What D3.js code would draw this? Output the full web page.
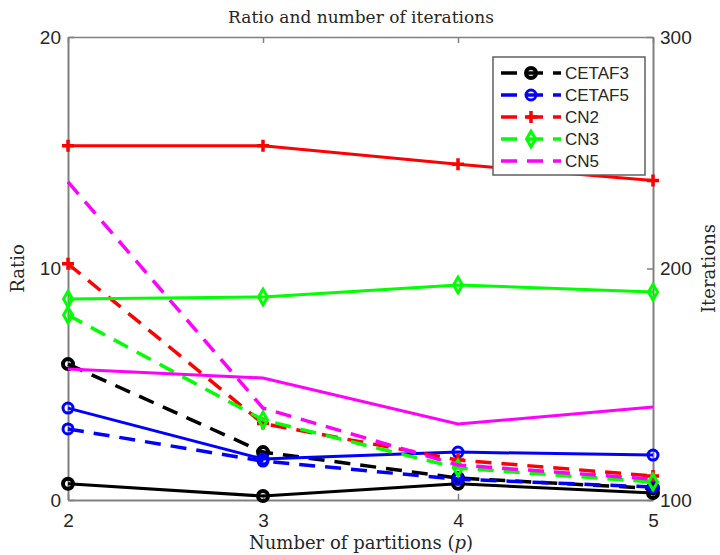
<!DOCTYPE html>
<html>
<head>
<meta charset="utf-8">
<script src="https://cdn.jsdelivr.net/npm/d3@7"></script>
<style>
  body { margin: 0; background: #fff; }
  .serif { font-family: "DejaVu Serif", "Liberation Serif", serif; fill: #262626; }
</style>
</head>
<body>
<div id="chart"></div>
<script>
// partitions on the x axis
var partitions = [2, 3, 4, 5];

// ratio values (left axis, dashed lines)
var ratioCETAF3 = [5.87, 2.07, 0.95, 0.5];
var ratioCETAF5 = [3.07, 1.68, 0.9, 0.56];
var ratioCN2 = [10.2, 3.3, 1.73, 1.04];
var ratioCN3 = [7.99, 3.46, 1.38, 0.78];
var ratioCN5 = [13.74, 3.97, 1.51, 0.9];

// iterations (right axis, solid lines)
var iterCETAF3 = [107, 101.7, 107, 103];
var iterCETAF5 = [139.7, 117.7, 120.7, 119.4];
var iterCN2 = [253, 253, 245, 238];
var iterCN3 = [186.8, 187.7, 192.9, 189.8];
var iterCN5 = [156.6, 152.7, 132.8, 140.2];

var ratioTicks = [0, 10, 20];
var iterTicks = [100, 200, 300];

var series = [
  { name: "CETAF3", color: "#000000", marker: "circle", ratio: ratioCETAF3, iter: iterCETAF3 },
  { name: "CETAF5", color: "#0000ff", marker: "circle", ratio: ratioCETAF5, iter: iterCETAF5 },
  { name: "CN2", color: "#ff0000", marker: "plus", ratio: ratioCN2, iter: iterCN2 },
  { name: "CN3", color: "#00ff00", marker: "diamond", ratio: ratioCN3, iter: iterCN3 },
  { name: "CN5", color: "#ff00ff", marker: "none", ratio: ratioCN5, iter: iterCN5 }
];

var W = 720, H = 555;
var margin = { top: 37, right: 67, bottom: 55, left: 68 };

var svg = d3.select("#chart").append("svg")
  .attr("width", W).attr("height", H);

var x = d3.scaleLinear().domain([2, 5]).range([margin.left, W - margin.right]);
var yL = d3.scaleLinear().domain([0, 20]).range([H - margin.bottom, margin.top]);
var yR = d3.scaleLinear().domain([100, 300]).range([H - margin.bottom, margin.top]);

var axisColor = "#808080";

// axes
var gx = svg.append("g").attr("transform", "translate(0," + (H - margin.bottom) + ")")
  .call(d3.axisBottom(x).tickValues(partitions).tickFormat(d3.format("d")).tickSizeInner(-6).tickSizeOuter(0).tickPadding(14));
var gxTop = svg.append("g").attr("transform", "translate(0," + margin.top + ")")
  .call(d3.axisTop(x).tickValues(partitions).tickFormat("").tickSizeInner(-6).tickSizeOuter(0));
var gyL = svg.append("g").attr("transform", "translate(" + margin.left + ",0)")
  .call(d3.axisLeft(yL).tickValues(ratioTicks).tickSizeInner(-6).tickSizeOuter(0).tickPadding(7));
var gyR = svg.append("g").attr("transform", "translate(" + (W - margin.right) + ",0)")
  .call(d3.axisRight(yR).tickValues(iterTicks).tickSizeInner(-6).tickSizeOuter(0).tickPadding(7));

[gx, gxTop, gyL, gyR].forEach(function (g) {
  g.attr("font-family", "Liberation Sans, Arial, sans-serif").attr("font-size", 19);
  g.selectAll(".tick text").attr("fill", "#262626");
  g.selectAll("path.domain").attr("stroke", axisColor).attr("stroke-width", 2);
  g.selectAll(".tick line").attr("stroke", axisColor).attr("stroke-width", 1.5);
});
gxTop.select("path.domain").attr("stroke-width", 1.5);

// marker drawing
function drawMarkers(g, pts, s) {
  if (s.marker === "none") return;
  pts.forEach(function (p) {
    if (s.marker === "circle") {
      g.append("circle").attr("cx", p[0]).attr("cy", p[1]).attr("r", 5)
        .attr("fill", "none").attr("stroke", s.color).attr("stroke-width", s.color === "#000000" ? 4 : 3);
    } else if (s.marker === "diamond") {
      g.append("path").attr("d", d3.symbol().type(d3.symbolDiamond).size(70)())
        .attr("transform", "translate(" + p[0] + "," + p[1] + ")")
        .attr("fill", "none").attr("stroke", s.color).attr("stroke-width", 3);
    } else if (s.marker === "plus") {
      g.append("path").attr("d", "M-6,0H6M0,-6V6")
        .attr("transform", "translate(" + p[0] + "," + p[1] + ")")
        .attr("stroke", s.color).attr("stroke-width", 3.5);
    }
  });
}

var line = d3.line();
var plot = svg.append("g");

series.forEach(function (s) {
  var ptsIter = partitions.map(function (p, i) { return [x(p), yR(s.iter[i])]; });
  var ptsRatio = partitions.map(function (p, i) { return [x(p), yL(s.ratio[i])]; });
  var g = plot.append("g");
  g.append("path").attr("d", line(ptsIter)).attr("fill", "none")
    .attr("stroke", s.color).attr("stroke-width", 3);
  drawMarkers(g, ptsIter, s);
  g.append("path").attr("d", line(ptsRatio)).attr("fill", "none")
    .attr("stroke", s.color).attr("stroke-width", 3.5).attr("stroke-dasharray", "16,10");
  drawMarkers(g, ptsRatio, s);
});

// titles
svg.append("text").attr("class", "serif").attr("x", 361).attr("y", 23)
  .attr("text-anchor", "middle").style("font-size", "17px").text("Ratio and number of iterations");

var xl = svg.append("text").attr("class", "serif").attr("x", 361).attr("y", 549)
  .attr("text-anchor", "middle").style("font-size", "18px");
xl.append("tspan").text("Number of partitions (");
xl.append("tspan").style("font-style", "italic").text("p");
xl.append("tspan").text(")");

svg.append("text").attr("class", "serif")
  .attr("transform", "translate(24," + yL(10) + ") rotate(-90)")
  .attr("text-anchor", "middle").style("font-size", "18px").text("Ratio");
svg.append("text").attr("class", "serif")
  .attr("transform", "translate(715," + yL(10) + ") rotate(-90)")
  .attr("text-anchor", "middle").style("font-size", "18px").text("Iterations");

// legend
var lg = svg.append("g").attr("transform", "translate(493,57)");
lg.append("rect").attr("width", 152).attr("height", 118)
  .attr("fill", "#fff").attr("stroke", "#606060").attr("stroke-width", 1.5);
series.forEach(function (s, i) {
  var yy = 16 + i * 22;
  var row = lg.append("g");
  row.append("path").attr("d", "M8," + yy + "H68").attr("stroke", s.color)
    .attr("stroke-width", 3.5).attr("stroke-dasharray", "16,10");
  drawMarkers(row, [[38, yy]], s);
  row.append("text").attr("x", 72).attr("y", yy + 6)
    .style("font-family", "Liberation Sans, Arial, sans-serif").style("font-size", "17px")
    .attr("fill", "#262626").text(s.name);
});
</script>
</body>
</html>
